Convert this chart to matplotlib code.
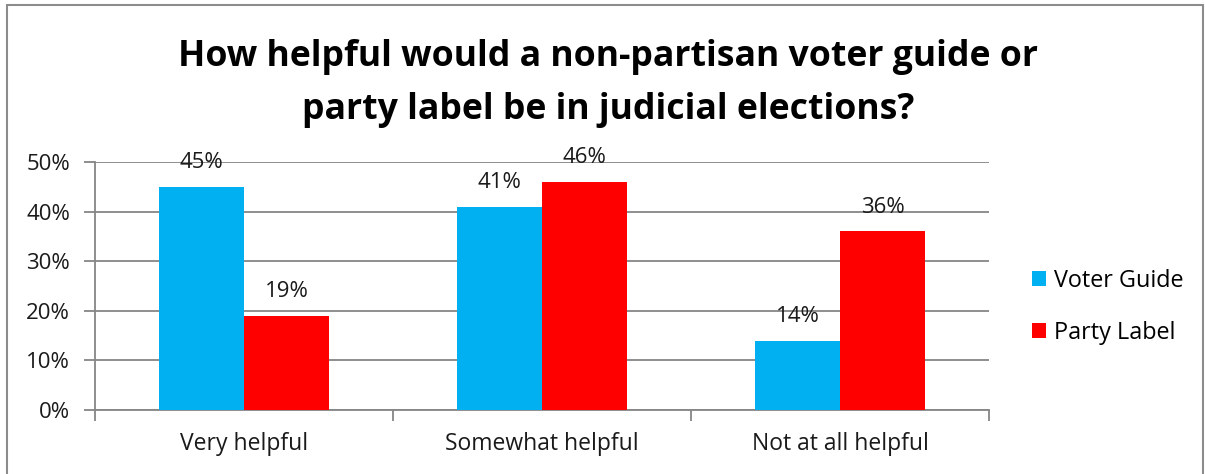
import numpy as np
import matplotlib
matplotlib.use('Agg')
import matplotlib.pyplot as plt
from matplotlib.patches import Rectangle

plt.rcParams['font.family'] = ['Open Sans', 'DejaVu Sans']

categories = ['Very helpful', 'Somewhat helpful', 'Not at all helpful']
voter_guide = [45, 41, 14]
party_label = [19, 46, 36]
series_names = ['Voter Guide', 'Party Label']
yticks = [0, 10, 20, 30, 40, 50]

blue = '#00B0F0'
red = '#FF0000'
grid_col = '#868686'
txt = '#1a1a1a'

fig = plt.figure(figsize=(12.05, 4.74), dpi=100)
# outer frame
fig.patches.append(Rectangle((7 / 1205, -0.1), 1196 / 1205, 1.09,
                             transform=fig.transFigure, fill=False,
                             edgecolor='#8c8c8c', linewidth=1.5))

ax = fig.add_axes([95 / 1205, 1 - 410 / 474, 894 / 1205, 248 / 474])

x = np.arange(len(categories))
w = 0.285
b1 = ax.bar(x - w / 2, voter_guide, w, color=blue, label=series_names[0], zorder=3)
b2 = ax.bar(x + w / 2, party_label, w, color=red, label=series_names[1], zorder=3)

for bars, vals in [(b1, voter_guide), (b2, party_label)]:
    for r, v in zip(bars, vals):
        ax.text(r.get_x() + r.get_width() / 2, v + 2.8, f'{v}%',
                ha='center', va='bottom', fontsize=16, color=txt)

ax.set_xlim(-0.5, 2.5)
ax.set_ylim(0, 50)
ax.set_yticks(yticks)
ax.set_yticklabels([f'{t}%' for t in yticks], fontsize=16, color=txt)
ax.set_xticks(x)
ax.set_xticklabels(categories, fontsize=16.5, color=txt)
ax.tick_params(axis='x', length=0, pad=16)
ax.tick_params(axis='y', length=8, width=1.3, color=grid_col, pad=10)
# category separators on x-axis
ax.set_xticks([-0.5, 0.5, 1.5, 2.5], minor=True)
ax.tick_params(axis='x', which='minor', length=8, width=1.3, color=grid_col)

ax.grid(axis='y', color=grid_col, linewidth=1.3, zorder=0)
for s in ['top', 'right']:
    ax.spines[s].set_visible(False)
for s in ['left', 'bottom']:
    ax.spines[s].set_color(grid_col)
    ax.spines[s].set_linewidth(1.3)

fig.text(608 / 1205, 1 - 57 / 474, 'How helpful would a non-partisan voter guide or',
         ha='center', va='center', fontsize=25.7, fontweight='bold')
fig.text(608 / 1205, 1 - 110 / 474, 'party label be in judicial elections?',
         ha='center', va='center', fontsize=25.7, fontweight='bold')

leg = fig.legend(handles=[b1, b2], labels=series_names, loc='center left',
                 bbox_to_anchor=(1011 / 1205, 1 - 307 / 474), frameon=False,
                 fontsize=16.8, handlelength=0.6, handleheight=0.6,
                 handletextpad=0.35, labelspacing=1.2)

fig.savefig('out.png', dpi=100)
